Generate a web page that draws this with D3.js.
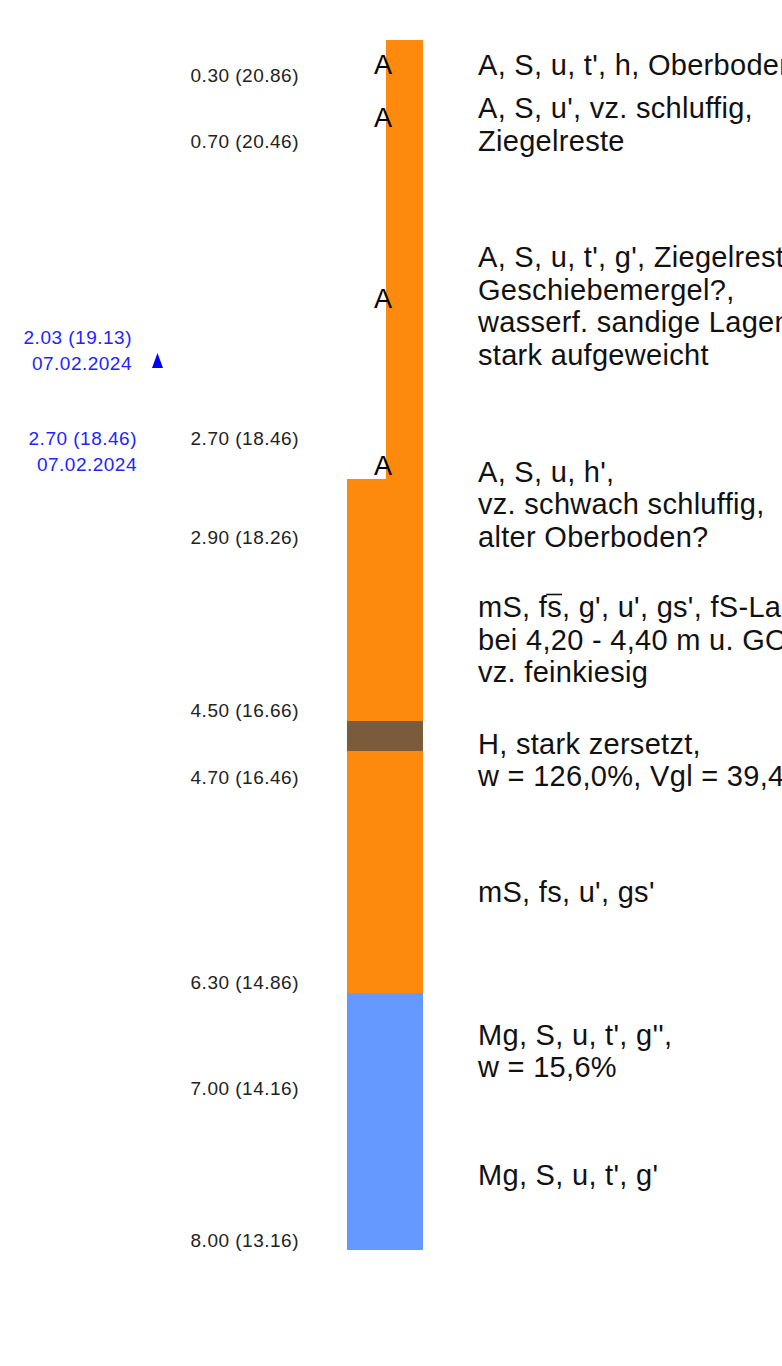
<!DOCTYPE html>
<html><head><meta charset="utf-8">
<script src="https://cdn.jsdelivr.net/npm/d3@7"></script>
<style>html,body{margin:0;padding:0;background:#fff;}svg{display:block;}</style>
</head><body>
<svg id="c" width="782" height="1366"></svg>
<script>
// ---- data ----
const layerBottom = [0.30, 0.70, 2.70, 2.90, 4.50, 4.70, 6.30, 7.00, 8.00];
const layerElev   = [20.86, 20.46, 18.46, 18.26, 16.66, 16.46, 14.86, 14.16, 13.16];
const layerSoil   = ["A", "A", "A", "A", "S", "H", "S", "Mg", "Mg"];
const layerText = [
  ["A, S, u, t', h, Oberboden"],
  ["A, S, u', vz. schluffig,", "Ziegelreste"],
  ["A, S, u, t', g', Ziegelreste,", "Geschiebemergel?,", "wasserf. sandige Lagen,", "stark aufgeweicht"],
  ["A, S, u, h',", "vz. schwach schluffig,", "alter Oberboden?"],
  ["mS, fs, g', u', gs', fS-Lagen", "bei 4,20 - 4,40 m u. GOK", "vz. feinkiesig"],
  ["H, stark zersetzt,", "w = 126,0%, Vgl = 39,4%"],
  ["mS, fs, u', gs'"],
  ["Mg, S, u, t', g'',", "w = 15,6%"],
  ["Mg, S, u, t', g'"]
];
// overlined character (strong admixture mark) : layer, line, char index
const overlines = [{layer: 4, line: 0, ch: 5}];
const waterDepth  = [2.03, 2.70];
const waterElev   = [19.13, 18.46];
const waterDate   = ["07.02.2024", "07.02.2024"];
const waterMarker = [true, false];

// ---- layout (not data) ----
const textAnchorDepth = [0.231, 0.625, 1.825, 3.137, 4.033, 4.826, 5.699, 6.750, 7.570];
const soilColor = {A: "#fd8a0c", S: "#fd8a0c", H: "#7a5c3c", Mg: "#6699ff"};
const soilWide  = {A: false, S: true, H: true, Mg: true};

const svg = d3.select("#c");
const y = d3.scaleLinear().domain([0, 8]).range([40, 1250]);
const xRight = 423, wNarrow = 37, wWide = 76;
const lineH = 32.5;
const font = "'Liberation Sans', Arial, sans-serif";

const layers = layerBottom.map((b, i) => ({
  top: i === 0 ? 0 : layerBottom[i - 1], bottom: b, elev: layerElev[i],
  soil: layerSoil[i], text: layerText[i], anchor: textAnchorDepth[i], i
}));

// bars
svg.append("g").attr("shape-rendering", "crispEdges")
  .selectAll("rect").data(layers).join("rect")
  .attr("x", d => xRight - (soilWide[d.soil] ? wWide : wNarrow))
  .attr("width", d => soilWide[d.soil] ? wWide : wNarrow)
  .attr("y", d => Math.round(y(d.top)))
  .attr("height", d => Math.round(y(d.bottom)) - Math.round(y(d.top)))
  .attr("fill", d => soilColor[d.soil]);

// "A" symbols
svg.append("g").selectAll("text").data(layers.filter(d => d.soil === "A")).join("text")
  .attr("x", 383).attr("y", d => y((d.top + d.bottom) / 2) + 11)
  .attr("text-anchor", "middle")
  .style("font-family", font).style("font-size", "27px").attr("fill", "#000")
  .text("A");

// descriptions
const descG = svg.append("g");
layers.forEach(d => {
  const n = d.text.length;
  d.baselines = d.text.map((t, j) => y(d.anchor) + (j - (n - 1) / 2) * lineH);
  d.text.forEach((t, j) => {
    const el = descG.append("text")
      .attr("x", 478).attr("y", d.baselines[j])
      .style("font-family", font).style("font-size", "29px")
      .style("letter-spacing", "0.3px").attr("fill", "#111")
      .text(t);
    overlines.filter(o => o.layer === d.i && o.line === j).forEach(o => {
      const node = el.node();
      const x0 = node.getStartPositionOfChar(o.ch).x;
      const x1 = node.getEndPositionOfChar(o.ch).x;
      descG.append("line").attr("x1", x0 - 1).attr("x2", x1)
        .attr("y1", d.baselines[j] - 23).attr("y2", d.baselines[j] - 23)
        .attr("stroke", "#111").attr("stroke-width", 1.6);
    });
  });
});

// depth labels
svg.append("g").selectAll("text").data(layers).join("text")
  .attr("x", 299)
  .attr("y", d => Math.max(y(d.bottom) - 10, d.baselines[d.baselines.length - 1] - 9) + 6.5)
  .attr("text-anchor", "end")
  .style("font-family", font).style("font-size", "19px")
  .style("letter-spacing", "0.5px").attr("fill", "#222")
  .text(d => `${d.bottom.toFixed(2)} (${d.elev.toFixed(2)})`);

// water levels
const water = waterDepth.map((d, i) => ({d, e: waterElev[i], date: waterDate[i], marker: waterMarker[i]}));
const wg = svg.append("g");
water.forEach(w => {
  const yy = y(w.d);
  const xr = w.marker ? 132 : 137;
  wg.append("text").attr("x", xr).attr("y", yy - 10 + 6.5).attr("text-anchor", "end")
    .style("font-family", font).style("font-size", "19px")
    .style("letter-spacing", "0.5px").attr("fill", "#2323ff")
    .text(`${w.d.toFixed(2)} (${w.e.toFixed(2)})`);
  wg.append("text").attr("x", xr).attr("y", yy + 16 + 6.5).attr("text-anchor", "end")
    .style("font-family", font).style("font-size", "19px")
    .style("letter-spacing", "0.5px").attr("fill", "#2323ff")
    .text(w.date);
  if (w.marker) {
    const cx = 157.5;
    wg.append("path")
      .attr("d", `M${cx},${yy + 6} L${cx + 5.5},${yy + 21} L${cx - 5.5},${yy + 21} Z`)
      .attr("fill", "#0000ff");
  }
});
</script>
</body></html>
